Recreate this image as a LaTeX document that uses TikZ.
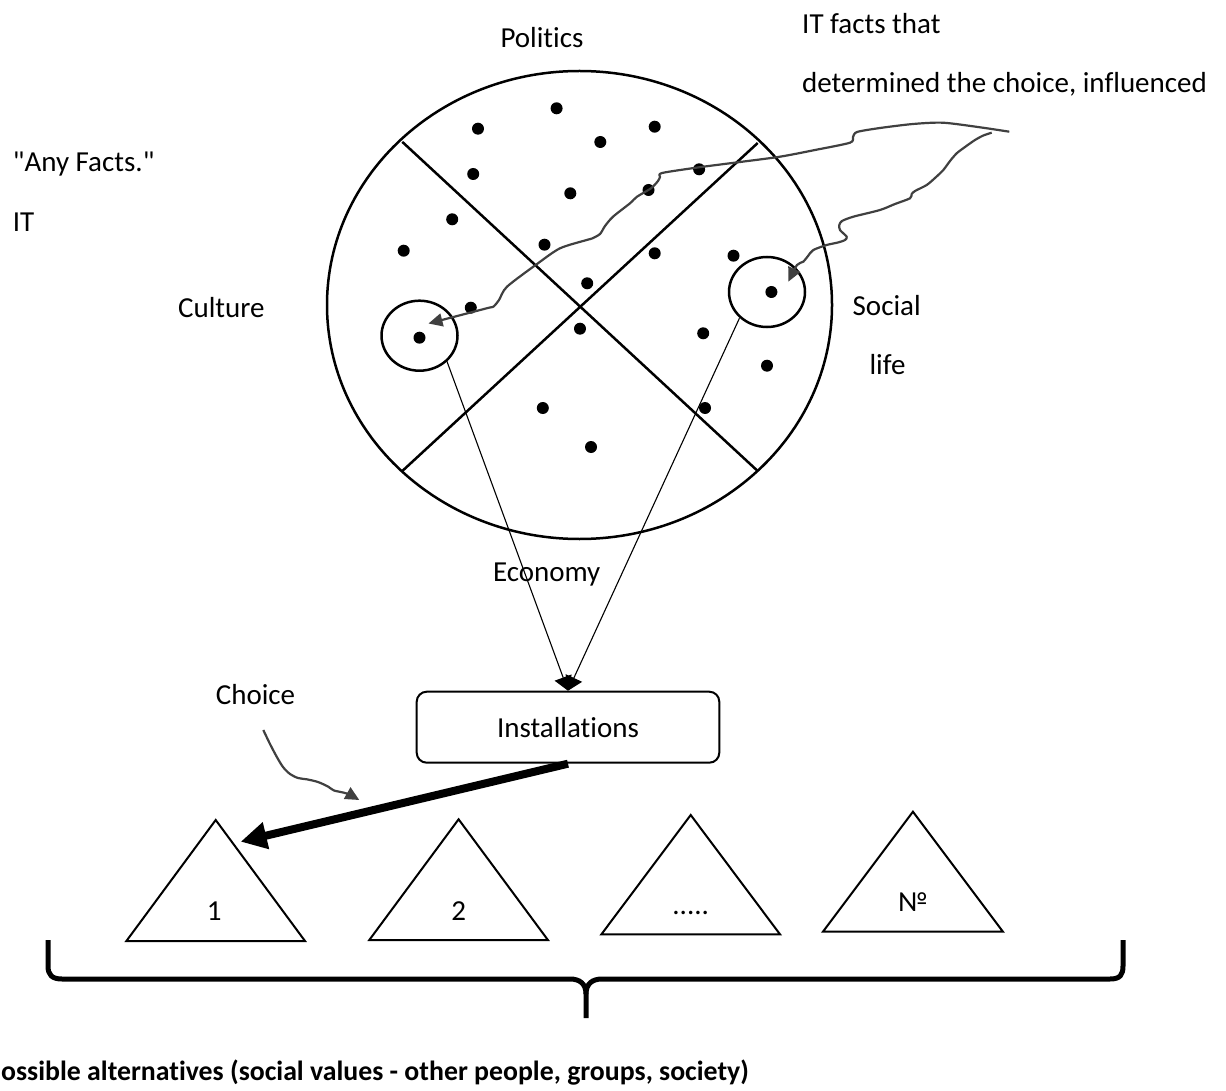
\documentclass[tikz,border=0pt]{standalone}
\usepackage{fontspec}
\setmainfont{Carlito}[Ligatures={TeXOff,CommonOff}]
\usetikzlibrary{arrows.meta,calc}
\definecolor{ink}{HTML}{404040}

\begin{document}
\begin{tikzpicture}[x=1pt,y=-1pt,
  every node/.style={font=\fontsize{29}{35}\selectfont, inner sep=0pt},
  lbl/.style={anchor=base},
  lblw/.style={anchor=base west},
  rim/.style={line width=2.5pt},
  dot/.style={fill=black},
  feed/.style={line width=1.1pt, -{Triangle[length=14pt,width=18pt]}},
  wavy/.style={ink, line width=2.2pt, line join=round, -{Triangle[length=14pt,width=13pt]}},
  choose/.style={line width=8pt, -{Triangle[length=26pt,width=26pt]}},
  tri/.style={line width=2pt, line join=miter},
  box/.style={draw, line width=2pt, rounded corners=10pt, minimum width=302.6pt, minimum height=71pt},
  brace/.style={line width=5pt}
]
\useasboundingbox (0,0) rectangle (1226,1091);

% sphere of facts split into four fields
\coordinate (ctr) at (579.5,305);
\draw[rim] (ctr) ellipse [x radius=252.5pt, y radius=234pt];
\draw[rim] (402.3,141.9) -- (757.7,471);
\draw[rim] (402.3,471) -- (757.7,143);

% facts
\foreach \p in {(556.6,108.3),(478,128.7),(654.7,126.7),(600.3,142),(473.2,174),
                (570.3,193.3),(699.1,169.3),(648.5,190),(452.2,219.3),(403.7,250.7),
                (544.5,244.7),(654.7,253.3),(733.5,255.7),(587.2,283.3),(771.4,292),
                (470.8,307.7),(419.5,337.7),(580,328.7),(703.2,333.3),(767,365.7),
                (542.8,408),(705,408),(591,447)}
  \fill[dot] \p circle[radius=6pt];

% selected facts
\coordinate (lc) at (419.5,335.7);
\coordinate (rc) at (767,292);
\draw[rim] (lc) ellipse [x radius=38pt, y radius=35pt];
\draw[rim] (rc) ellipse [x radius=38pt, y radius=35pt];
\coordinate (lcout) at (446.7,360.7);
\coordinate (rcout) at (739.4,318.3);
\coordinate (lctip) at (428.5,323.5);
\coordinate (rctip) at (788.3,281.7);

% labels
\node[lbl] (politics) at (542,48) {Politics};
\node[lblw] (itfacts) at (802,34) {IT facts that};
\node[lblw] (determined) at (802,93) {determined the choice, influenced};
\node[lblw] (anyfacts) at (12.7,172) {"Any Facts."};
\node[lblw] (it) at (12.7,232) {IT};
\node[lbl] (culture) at (221.3,317) {Culture};
\node[lbl] (social) at (886.7,316) {Social};
\node[lbl] (life) at (887.5,374) {life};
\node[lbl] (economy) at (546.7,581) {Economy};
\node[lbl] (choice) at (255.5,704) {Choice};

% installations
\node[box] (inst) at (568,727.2) {Installations};
\draw[feed] (lcout) -- (inst.north);
\draw[feed] (rcout) -- (inst.north);

% wavy influence lines
\coordinate (w1) at (1009.3,131.7);
\coordinate (w2) at (991.7,132.7);
\draw[wavy] plot[smooth, tension=0.45] coordinates {
  (w1) (980,127.3) (943,122.7) (913,124) (880,128) (857,132) (853,137) (850,142.7)
  (815,150) (780,156.7) (740,162) (699,167.3) (662,173) (660,177) (658,181)
  (651,188.3) (637,196.7) (630,203.3) (613,216.7) (605,226) (600,234) (592,238.5)
  (586.7,240) (560,248.3) (537,264) (507,286.7) (499,300) (493.3,306.7) (486.7,308.3)
  (lctip)};
\draw[wavy] plot[smooth, tension=0.45] coordinates {
  (w2) (983.3,135.5) (975,140) (965,147) (956.7,153.3) (950,161) (943.3,170)
  (935,178) (926.7,185) (915,191) (911.7,194) (910,198.3) (895,204) (880,210)
  (853.3,216.7) (842,221) (839.3,225) (840,230) (846.7,236.7) (845,240) (838,242.5)
  (826.7,245) (813.3,250) (808,256) (803.3,261.7) (797,265) (rctip)};

% choice
\coordinate (cw) at (263.3,730);
\coordinate (cwtip) at (359.3,800);
\draw[wavy] plot[smooth, tension=0.5] coordinates {
  (cw) (270,744) (276.7,756.7) (283,767) (290,774) (298,778) (306.7,779.3)
  (318,782) (328.3,786.7) (334,790.5) (346.7,793.5) (cwtip)};

% alternatives
\coordinate (t1a) at (215.7,820);
\coordinate (t2a) at (458.6,819.3);
\coordinate (t3a) at (690.7,815);
\coordinate (t4a) at (912.9,811.7);
\draw[tri] (t1a) -- (126.4,941) -- (305,941) -- cycle;
\draw[tri] (t2a) -- (369.3,940) -- (547.9,940) -- cycle;
\draw[tri] (t3a) -- (601.4,934.3) -- (780,934.3) -- cycle;
\draw[tri] (t4a) -- (822.9,931.7) -- (1002.9,931.7) -- cycle;
\node[lbl] (n1) at (214.3,920.5) {1};
\node[lbl] (n2) at (458.6,920.5) {2};
\node[lbl] (n3) at (690.7,914) {.....};
\node[lbl] (n4) at (912.9,911) {№};

\coordinate (pick) at (240.7,841.7);
\draw[choose] (inst.south) -- (pick);

% brace under all alternatives
\draw[brace] (48,940) -- (48,966) .. controls (48,975) and (52,979) .. (62,979)
  -- (570,979) .. controls (580,979) and (586,984) .. (586,994) -- (586,1018);
\draw[brace] (586,994) .. controls (586,984) and (592,979) .. (602,979)
  -- (1110,979) .. controls (1120,979) and (1123,975) .. (1123,966) -- (1123,940);

\node[lblw, font=\fontsize{27.8}{34}\selectfont\bfseries] (foot) at (1,1080)
  {ossible alternatives (social values - other people, groups, society)};
\end{tikzpicture}
\end{document}
